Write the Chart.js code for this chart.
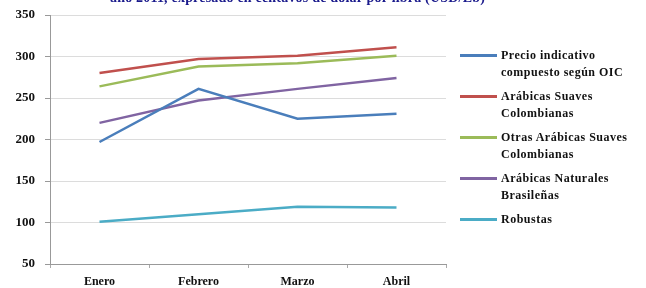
<!DOCTYPE html>
<html>
<head>
<meta charset="utf-8">
<script src="https://cdn.jsdelivr.net/npm/chart.js@4.4.0/dist/chart.umd.min.js"></script>
<style>
  html, body { margin: 0; padding: 0; background: #fff; overflow: hidden; }
  #wrap { position: relative; width: 646px; height: 288px; overflow: hidden; }
  #title { position: absolute; left: 110px; top: -10px; white-space: nowrap;
    font-family: "Liberation Serif", serif; font-weight: bold; font-size: 14px;
    letter-spacing: 0.2px; color: #1a1a8c; }
  #legend { position: absolute; left: 460px; top: 47px;
    font-family: "Liberation Serif", serif; font-weight: bold; font-size: 12px;
    letter-spacing: 0.5px; color: #111; }
  .item { position: relative; padding-left: 41px; line-height: 17px; margin-bottom: 7px; }
  .swatch { position: absolute; left: 0; top: 7px; width: 37px; height: 3px; }
</style>
</head>
<body>
<div id="wrap">
  <canvas id="c" width="646" height="288"></canvas>
  <div id="title">año 2011, expresado en centavos de dólar por libra (USD/Lb)</div>
  <div id="legend"></div>
</div>
<script>
const categories = ["Enero", "Febrero", "Marzo", "Abril"];
const seriesNames = [
  ["Precio indicativo", "compuesto según OIC"],
  ["Arábicas Suaves", "Colombianas"],
  ["Otras Arábicas Suaves", "Colombianas"],
  ["Arábicas Naturales", "Brasileñas"],
  ["Robustas"]
];
const precioOIC = [197, 261, 225, 231];
const suavesColombianas = [280, 297, 301, 311];
const otrasSuaves = [264, 288, 292, 301];
const naturalesBrasilenas = [220, 247, 261, 274];
const robustas = [101, 110, 119, 118];
const yTicks = [50, 100, 150, 200, 250, 300, 350];

const seriesValues = [precioOIC, suavesColombianas, otrasSuaves, naturalesBrasilenas, robustas];
const colors = ["#4a7ebb", "#c0504d", "#9bbb59", "#8064a2", "#4bacc6"];

const datasets = seriesValues.map((vals, i) => ({
  label: seriesNames[i].join(" "),
  data: vals,
  borderColor: colors[i],
  backgroundColor: colors[i],
  borderWidth: 2.5,
  pointRadius: 0,
  tension: 0,
  fill: false
}));

const tickFont = { family: "Liberation Serif", weight: "bold", size: 12 };
const yTickFont = { family: "Liberation Serif", weight: "bold", size: 13 };

new Chart(document.getElementById("c"), {
  type: "line",
  data: { labels: categories, datasets },
  options: {
    responsive: false,
    animation: false,
    layout: { padding: { top: 15, right: 200, left: 0, bottom: 0 } },
    plugins: { legend: { display: false }, title: { display: false }, tooltip: { enabled: false } },
    scales: {
      x: {
        offset: true,
        grid: { display: true, drawOnChartArea: false, drawTicks: true, tickLength: 4, tickColor: "#aaa", offset: true },
        border: { color: "#999", width: 1 },
        ticks: { color: "#111", font: tickFont, padding: 7 },
        afterFit: s => { s.height = 24; }
      },
      y: {
        min: 50, max: 350,
        afterBuildTicks: s => { s.ticks = yTicks.map(v => ({ value: v })); },
        grid: { color: "#dcdcdc", lineWidth: 1, tickLength: 5, tickColor: "#999" },
        border: { color: "#999", width: 1 },
        ticks: { color: "#111", font: yTickFont, padding: 10 },
        afterFit: s => { s.width = 50; s.paddingTop = 0; s.paddingBottom = 0; }
      }
    }
  }
});

const legend = document.getElementById("legend");
seriesNames.forEach((lines, i) => {
  const item = document.createElement("div");
  item.className = "item";
  const sw = document.createElement("div");
  sw.className = "swatch";
  sw.style.background = colors[i];
  item.appendChild(sw);
  lines.forEach((t, j) => {
    if (j) item.appendChild(document.createElement("br"));
    item.appendChild(document.createTextNode(t));
  });
  legend.appendChild(item);
});
</script>
</body>
</html>
